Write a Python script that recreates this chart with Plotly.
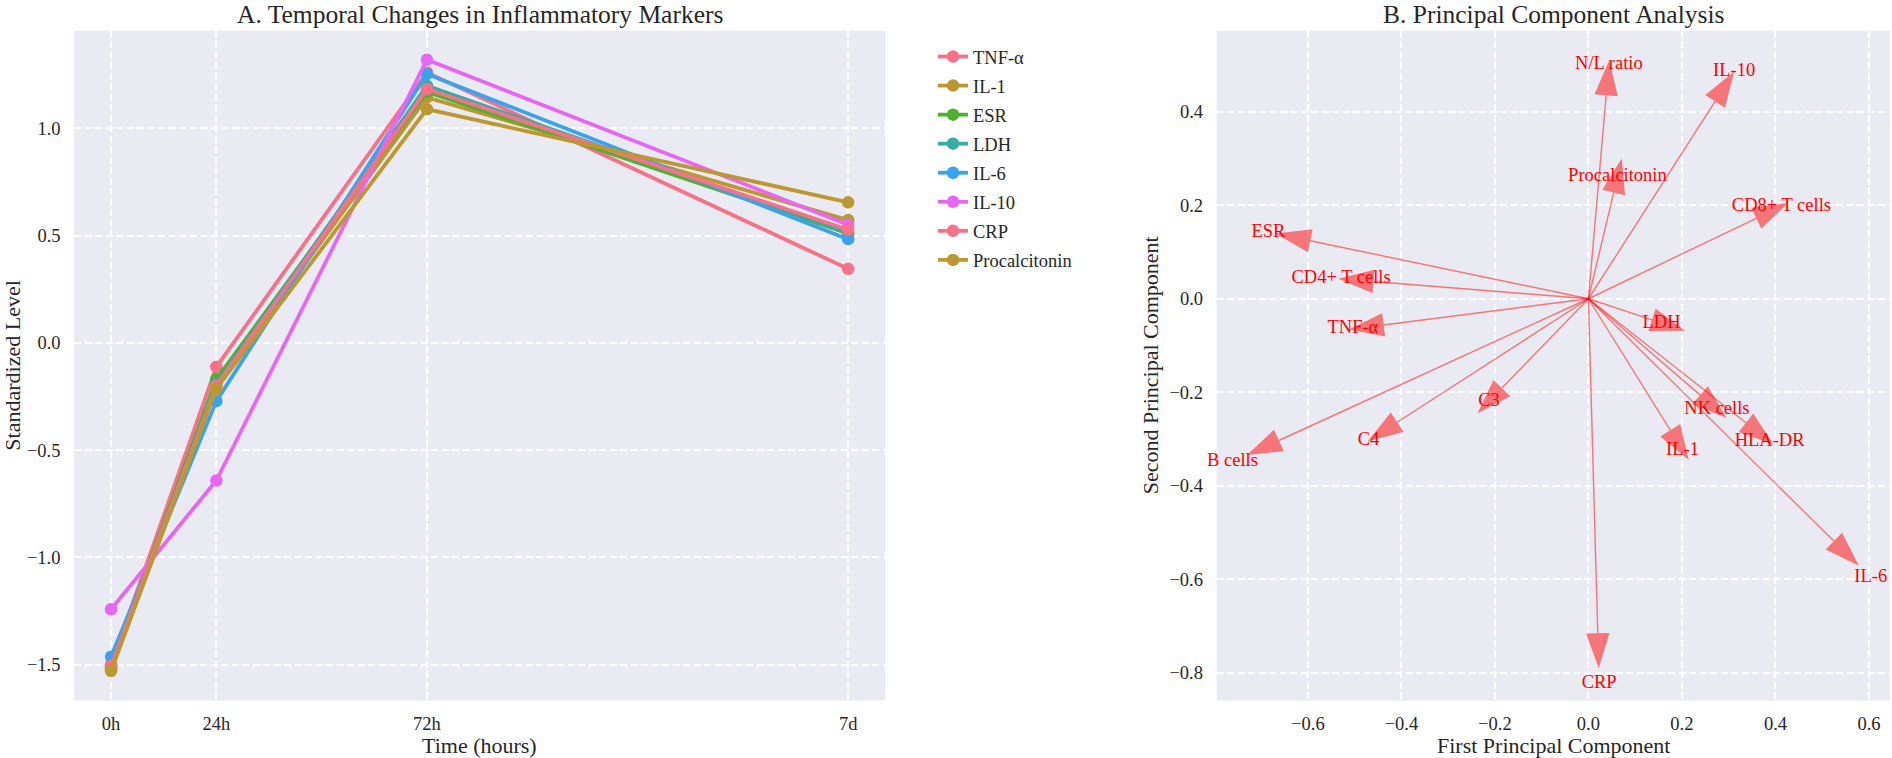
import numpy as np
import plotly.graph_objects as go

# ---------------- data: panel A ----------------
time_hours = [0, 24, 72, 168]
time_labels = ["0h", "24h", "72h", "7d"]

marker_names = ["TNF-α", "IL-1", "ESR", "LDH", "IL-6", "IL-10", "CRP", "Procalcitonin"]
tnf_alpha = [-1.500, -0.112, 1.260, 0.345]
il_1 = [-1.520, -0.196, 1.144, 0.572]
esr = [-1.510, -0.170, 1.170, 0.510]
ldh = [-1.520, -0.192, 1.198, 0.514]
il_6 = [-1.463, -0.272, 1.253, 0.483]
il_10 = [-1.242, -0.642, 1.320, 0.550]
crp = [-1.507, -0.200, 1.183, 0.527]
procalcitonin = [-1.530, -0.214, 1.089, 0.655]
series_values = [tnf_alpha, il_1, esr, ldh, il_6, il_10, crp, procalcitonin]

palette = ["#f77189", "#bb9832", "#50b131", "#36ada4", "#3ba3ec", "#e866f4"]

# ---------------- data: panel B ----------------
features = ["TNF-α", "IL-1", "ESR", "LDH", "IL-6", "IL-10", "CRP", "Procalcitonin",
            "N/L ratio", "C3", "C4", "CD4+ T cells", "CD8+ T cells", "B cells",
            "NK cells", "HLA-DR"]
pc1_loadings = [-0.438, 0.175, -0.595, 0.136, 0.525, 0.271, 0.020, 0.054,
                0.038, -0.185, -0.409, -0.460, 0.359, -0.662, 0.239, 0.337]
pc2_loadings = [-0.056, -0.281, 0.124, -0.045, -0.518, 0.422, -0.715, 0.227,
                0.435, -0.191, -0.264, 0.037, 0.172, -0.303, -0.206, -0.265]

# ---------------- style ----------------
FONT = "Liberation Serif"
TXT = "#262626"
BG = "#eaeaf2"
W, H = 1892, 758
arrow_col = "rgba(255,0,0,0.5)"
head_width = 0.05
head_length = 0.075
label_scale = 1.15

# pixel layout -> paper
x1d = [74.2 / W, 885.0 / W]
x2d = [1216.7 / W, 1890.0 / W]
yd = [1 - 700.6 / H, 1 - 30.7 / H]

fig = go.Figure()

for i, (name, vals) in enumerate(zip(marker_names, series_values)):
    c = palette[i % len(palette)]
    fig.add_trace(go.Scatter(
        x=time_hours, y=vals, name=name, mode="lines+markers",
        line=dict(color=c, width=3.8), marker=dict(color=c, size=12.5),
        legendgroup=name, xaxis="x", yaxis="y"))

# arrows shafts
sx, sy = [], []
for px, py in zip(pc1_loadings, pc2_loadings):
    sx += [0, px, None]
    sy += [0, py, None]
fig.add_trace(go.Scatter(x=sx, y=sy, mode="lines", line=dict(color=arrow_col, width=1.4),
                         showlegend=False, hoverinfo="skip", xaxis="x2", yaxis="y2"))
# arrow heads
for px, py in zip(pc1_loadings, pc2_loadings):
    v = np.array([px, py])
    u = v / np.linalg.norm(v)
    n = np.array([-u[1], u[0]])
    tip = v + head_length * u
    a = v + 0.5 * head_width * n
    b = v - 0.5 * head_width * n
    fig.add_trace(go.Scatter(x=[a[0], tip[0], b[0], a[0]], y=[a[1], tip[1], b[1], a[1]],
                             mode="lines", fill="toself", fillcolor=arrow_col,
                             line=dict(width=0, color=arrow_col), showlegend=False,
                             hoverinfo="skip", xaxis="x2", yaxis="y2"))
# labels
fig.add_trace(go.Scatter(x=[label_scale * p for p in pc1_loadings],
                         y=[label_scale * p for p in pc2_loadings],
                         mode="text", text=features, textposition="middle center",
                         textfont=dict(family=FONT, size=18.5, color="red"),
                         showlegend=False, hoverinfo="skip", xaxis="x2", yaxis="y2",
                         cliponaxis=False))

grid = dict(showgrid=True, gridcolor="white", gridwidth=1.6, griddash="7px,3.5px",
            zeroline=False, showline=False, ticks="outside", tickcolor="rgba(0,0,0,0)",
            tickfont=dict(family=FONT, size=18.5, color=TXT))

fig.update_layout(
    width=W, height=H, margin=dict(l=0, r=0, t=0, b=0),
    paper_bgcolor="white", plot_bgcolor=BG,
    font=dict(family=FONT, color=TXT),
    xaxis=dict(domain=x1d, range=[-8.4, 176.4], tickvals=time_hours, ticktext=time_labels,
               ticklen=6, anchor="y", **grid),
    yaxis=dict(domain=yd, range=[-1.668, 1.455], tickvals=[-1.5, -1.0, -0.5, 0.0, 0.5, 1.0],
               tickformat=".1f", ticklen=9, anchor="x", **grid),
    xaxis2=dict(domain=x2d, range=[-0.795, 0.645], tickvals=[-0.6, -0.4, -0.2, 0.0, 0.2, 0.4, 0.6],
                tickformat=".1f", ticklen=6, anchor="y2", **grid),
    yaxis2=dict(domain=yd, range=[-0.859, 0.573], tickvals=[-0.8, -0.6, -0.4, -0.2, 0.0, 0.2, 0.4],
                tickformat=".1f", ticklen=9, anchor="x2", **grid),
    legend=dict(x=933 / W, y=1 - 38 / H, xanchor="left", yanchor="top",
                font=dict(family=FONT, size=18.5, color=TXT), bgcolor="rgba(0,0,0,0)",
                tracegroupgap=2),
    showlegend=True,
)

ann = []
ann.append(dict(text="A. Temporal Changes in Inflammatory Markers", x=sum(x1d) / 2, y=1 - 14 / H,
                xref="paper", yref="paper", xanchor="center", yanchor="middle", showarrow=False,
                font=dict(family=FONT, size=25.5, color=TXT)))
ann.append(dict(text="B. Principal Component Analysis", x=sum(x2d) / 2, y=1 - 14 / H,
                xref="paper", yref="paper", xanchor="center", yanchor="middle", showarrow=False,
                font=dict(family=FONT, size=25.5, color=TXT)))
ann.append(dict(text="Time (hours)", x=sum(x1d) / 2, y=1 - 745 / H, xref="paper", yref="paper",
                xanchor="center", yanchor="middle", showarrow=False,
                font=dict(family=FONT, size=22, color=TXT)))
ann.append(dict(text="First Principal Component", x=sum(x2d) / 2, y=1 - 745 / H, xref="paper",
                yref="paper", xanchor="center", yanchor="middle", showarrow=False,
                font=dict(family=FONT, size=22, color=TXT)))
ann.append(dict(text="Standardized Level", x=13 / W, y=sum(yd) / 2, xref="paper", yref="paper",
                xanchor="center", yanchor="middle", textangle=-90, showarrow=False,
                font=dict(family=FONT, size=22, color=TXT)))
ann.append(dict(text="Second Principal Component", x=1150.5 / W, y=sum(yd) / 2, xref="paper",
                yref="paper", xanchor="center", yanchor="middle", textangle=-90, showarrow=False,
                font=dict(family=FONT, size=22, color=TXT)))
fig.update_layout(annotations=ann)

fig.write_html("out.html", config={"displayModeBar": False},
               post_script="document.body.style.margin='0px';document.body.style.overflow='hidden';")
